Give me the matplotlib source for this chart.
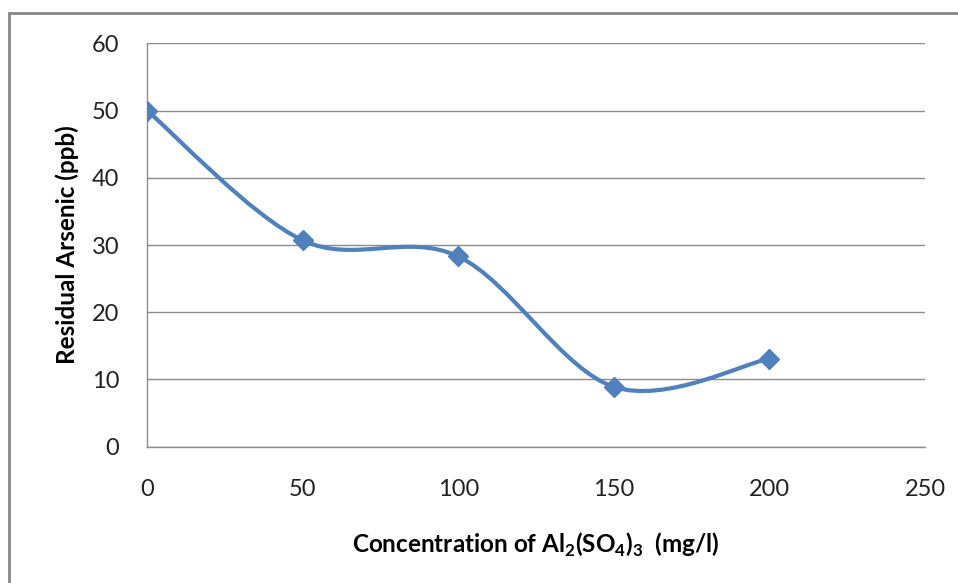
import numpy as np
import matplotlib
matplotlib.use("Agg")
import matplotlib.pyplot as plt
from matplotlib.path import Path
from matplotlib.patches import PathPatch, Rectangle

plt.rcParams['font.family'] = ['Lato', 'DejaVu Sans']
plt.rcParams['mathtext.fontset'] = 'custom'
plt.rcParams['mathtext.rm'] = 'Lato'
plt.rcParams['mathtext.bf'] = 'Lato:bold'

# alum dose vs arsenic left in the water
dose = [0, 50, 100, 150, 200]
arsenic = [50.0, 30.7, 28.3, 8.9, 13.1]

x_ticks = [0, 50, 100, 150, 200, 250]
y_ticks = [0, 10, 20, 30, 40, 50, 60]

blue = '#4F81BD'
grey = '#8C8C8C'


def smooth_path(xs, ys):
    # Catmull-Rom style bezier, same idea as a spreadsheet "smoothed line"
    pts = np.column_stack([xs, ys]).astype(float)
    n = len(pts)
    verts = [pts[0]]
    codes = [Path.MOVETO]
    for i in range(n - 1):
        p_prev = pts[max(i - 1, 0)]
        p0, p1 = pts[i], pts[i + 1]
        p_next = pts[min(i + 2, n - 1)]
        c1 = p0 + (p1 - p_prev) / 6.0
        c2 = p1 - (p_next - p0) / 6.0
        verts += [c1, c2, p1]
        codes += [Path.CURVE4] * 3
    return Path(verts, codes)


fig = plt.figure(figsize=(9.58, 5.83), dpi=100)
ax = fig.add_axes([0.1535, 0.2338, 0.8121, 0.6919])

ax.add_patch(PathPatch(smooth_path(dose, arsenic), facecolor='none',
                       edgecolor=blue, lw=3.0, capstyle='round', zorder=3))
ax.plot(dose, arsenic, linestyle='none', marker='D', markersize=10.5,
        color=blue, zorder=4)

ax.set_xlim(0, 250)
ax.set_ylim(0, 60)
ax.set_xticks(x_ticks)
ax.set_yticks(y_ticks)
ax.tick_params(length=0, labelsize=17, colors='#222222')
ax.tick_params(axis='x', pad=23)
ax.tick_params(axis='y', pad=20)
ax.yaxis.grid(True, color=grey, lw=1.0)
ax.set_axisbelow(True)
for side in ['top', 'right']:
    ax.spines[side].set_visible(False)
for side in ['left', 'bottom']:
    ax.spines[side].set_color(grey)
    ax.spines[side].set_linewidth(1.0)

ax.set_xlabel(r'Concentration of Al$_\mathbf{2}$(SO$_\mathbf{4}$)$_\mathbf{3}$  (mg/l)',
              fontsize=17.5, fontweight='bold')
ax.xaxis.set_label_coords(0.5, -0.208)
ax.set_ylabel('Residual Arsenic (ppb)', fontsize=17.5, fontweight='bold')
ax.yaxis.set_label_coords(-0.088, 0.5)

# chart frame
fig.patches.append(Rectangle((9 / 958, -0.05), 1.2, 1 - 13 / 583 + 0.05,
                             transform=fig.transFigure, fill=False,
                             edgecolor='#878787', lw=2.0))

fig.savefig('out.png', dpi=100)
